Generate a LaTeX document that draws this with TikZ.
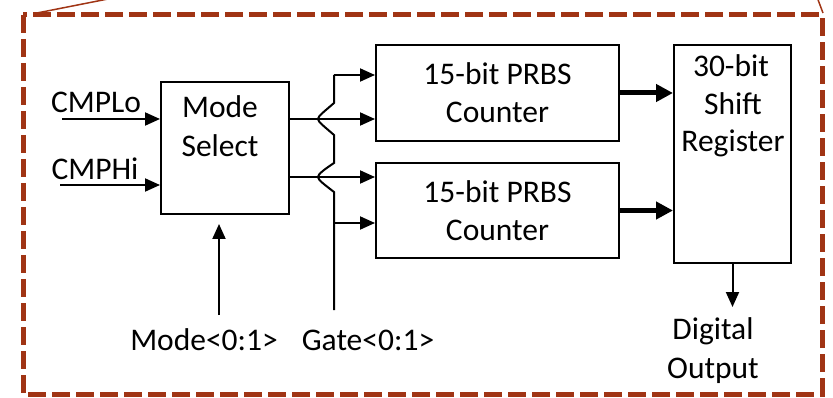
\documentclass[tikz,border=0pt]{standalone}
\usepackage{fontspec}
\setmainfont{Carlito}
\usetikzlibrary{arrows.meta}
\definecolor{framered}{RGB}{160,52,20}
\begin{document}
\begin{tikzpicture}[x=1pt,y=-1pt,
  txt/.style={font=\fontsize{31.5}{38}\selectfont, inner sep=0pt, anchor=base},
  blk/.style={draw, line width=2pt, inner sep=0pt, align=center, font=\fontsize{31.5}{38}\selectfont},
  wire/.style={line width=2pt},
  arr/.style={line width=2pt, -{Triangle[length=15pt,width=13pt]}},
  thick arr/.style={line width=5pt, -{Triangle[length=17pt,width=17pt]}},
  frameline/.style={draw=framered, line width=5pt, dash pattern=on 18pt off 6pt},
  leader/.style={draw=framered, line width=1.5pt}
]
\useasboundingbox (0,0) rectangle (833,398);

% frame
\draw[frameline] (23,15) rectangle (822,394);
\coordinate (tl) at (37,13);
\coordinate (tlx) at (118,-3);
\coordinate (tr) at (823,13);
\coordinate (trx) at (817,-3);
\draw[leader] (tl) -- (tlx);
\draw[leader] (tr) -- (trx);

% blocks
\node[blk, minimum width=128pt, minimum height=132pt] (ms) at (225,148) {};
\node[txt] (msl1) at (220,118) {Mode};
\node[txt] (msl2) at (220,157) {Select};

\node[blk, minimum width=243pt, minimum height=96pt] (p1) at (497.5,93) {15-bit PRBS\\Counter};
\node[blk, minimum width=243pt, minimum height=95pt] (p2) at (497.5,210.5) {15-bit PRBS\\Counter};

\node[blk, minimum width=117pt, minimum height=218pt] (sr) at (732.5,154) {};
\node[txt] (sr1) at (731,77) {30-bit};
\node[txt] (sr2) at (733,115) {Shift};
\node[txt] (sr3) at (733,152) {Register};

% labels
\node[txt] (lo) at (96,113) {CMPLo};
\node[txt] (hi) at (95,180) {CMPHi};
\node[txt] (mode) at (204,350) {Mode<0:1>};
\node[txt] (gate) at (368,350) {Gate<0:1>};
\node[txt] (dig) at (713,339) {Digital};
\node[txt] (outp) at (713,378) {Output};

% coordinates
\coordinate (inL) at (62,119);
\coordinate (inH) at (60,185);
\coordinate (r1) at (0,119);
\coordinate (r2) at (0,177);
\coordinate (gt) at (334,75);
\coordinate (gm) at (334,223);
\coordinate (gb) at (334,310);
\coordinate (mb) at (219,315);
\coordinate (so) at (732.5,307);

% inputs
\draw[arr] (inL) -- (ms.west |- inL);
\draw[arr] (inH) -- (ms.west |- inH);
\draw[arr, shorten >=9pt] (mb) -- (mb |- ms.south);

% mode select outputs
\draw[arr] (ms.east |- r1) -- (p1.west |- r1);
\draw[arr] (ms.east |- r2) -- (p2.west |- r2);

% gate line with hops
\draw[wire] (gb) -- (334,192)
  .. controls (325,185) and (318,180) .. (318,177)
  .. controls (318,174) and (325,169) .. (334,163)
  -- (334,135)
  .. controls (325,127) and (318,122) .. (318,119)
  .. controls (318,116) and (325,111) .. (334,103)
  -- (gt);
\draw[arr] (gt) -- (p1.west |- gt);
\draw[arr] (gm) -- (p2.west |- gm);

% counters to shift register
\draw[thick arr] (p1.east) -- (sr.west |- p1.east);
\draw[thick arr] (p2.east) -- (sr.west |- p2.east);

% output
\draw[arr] (sr.south) -- (so);
\end{tikzpicture}
\end{document}
